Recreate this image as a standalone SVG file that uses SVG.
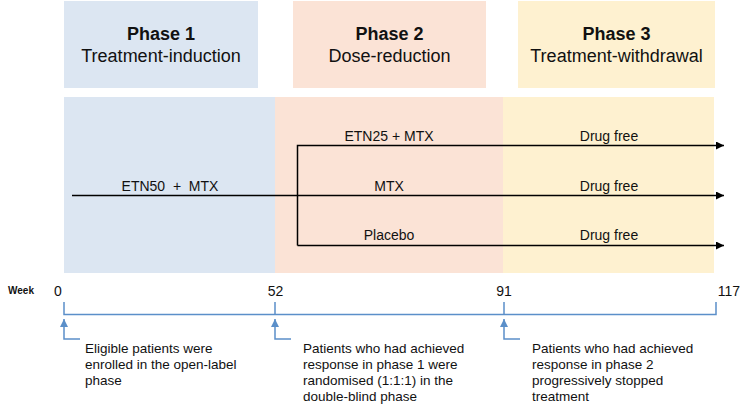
<svg xmlns="http://www.w3.org/2000/svg" width="746" height="406" viewBox="0 0 746 406">
<defs>
<style>
text{font-family:"Liberation Sans",Arial,sans-serif;fill:#111}
.h{font-size:18px;font-weight:bold;text-anchor:middle}
.s{font-size:18px;text-anchor:middle}
.l{font-size:14px;text-anchor:middle;white-space:pre}
.n{font-size:14px;text-anchor:middle}
.a{font-size:13.5px}
.w{font-size:10px;font-weight:bold}
.line{stroke:#000;stroke-width:1.5;fill:none}
.tl{stroke:#5b8fc9;stroke-width:1.5;fill:none}
</style>
<marker id="ah" markerWidth="10" markerHeight="10" refX="8" refY="4" orient="auto" markerUnits="userSpaceOnUse">
<path d="M0,0 L8,4 L0,8 Z" fill="#000"/>
</marker>
<marker id="bh" markerWidth="10" markerHeight="10" refX="8" refY="4" orient="auto" markerUnits="userSpaceOnUse">
<path d="M0,0 L8,4 L0,8 Z" fill="#5b8fc9"/>
</marker>
</defs>
<rect width="746" height="406" fill="#fff"/>
<g id="phase1">
<rect x="64" y="1" width="194" height="87" fill="#dce6f2"/>
<text class="h" x="161" y="40">Phase 1</text>
<text class="s" x="161" y="62">Treatment-induction</text>
</g>
<g id="phase2">
<rect x="293" y="1" width="193" height="87" fill="#fbe3d6"/>
<text class="h" x="389.5" y="40">Phase 2</text>
<text class="s" x="389.5" y="62">Dose-reduction</text>
</g>
<g id="phase3">
<rect x="518" y="1" width="197" height="87" fill="#fef1d0"/>
<text class="h" x="616.5" y="40">Phase 3</text>
<text class="s" x="616.5" y="62">Treatment-withdrawal</text>
</g>
<g id="bands">
<rect x="64" y="97" width="211" height="176" fill="#dce6f2"/>
<rect x="275" y="97" width="228" height="176" fill="#fbe3d6"/>
<rect x="503" y="97" width="211" height="176" fill="#fef1d0"/>
</g>
<g id="connectors">
<path class="line" d="M72,195.5 H724" marker-end="url(#ah)"/>
<path class="line" d="M297.5,245.5 V145.5 H724" marker-end="url(#ah)"/>
<path class="line" d="M297.5,245.5 H724" marker-end="url(#ah)"/>
<path class="tl" d="M64,302 V314.5 H716 V302 M275,302 V314.5 M504,302 V314.5"/>
<path class="tl" d="M80,339 H64 V319" marker-end="url(#bh)"/>
<path class="tl" d="M291,339 H275 V319" marker-end="url(#bh)"/>
<path class="tl" d="M520,339 H504 V319" marker-end="url(#bh)"/>
</g>
<g id="arm-labels">
<text class="l" x="170" y="190.5">ETN50  +  MTX</text>
<text class="l" x="389" y="140.5">ETN25 + MTX</text>
<text class="l" x="389" y="190.5">MTX</text>
<text class="l" x="389" y="240">Placebo</text>
<text class="l" x="609" y="140.5">Drug free</text>
<text class="l" x="609" y="190.5">Drug free</text>
<text class="l" x="609" y="240">Drug free</text>
</g>
<g id="timeline">
<text class="w" x="8" y="294">Week</text>
<text class="n" x="58" y="296">0</text>
<text class="n" x="275.5" y="296">52</text>
<text class="n" x="504" y="296">91</text>
<text class="n" x="729" y="296">117</text>
</g>
<g id="note1">
<text class="a" x="85" y="353">Eligible patients were</text>
<text class="a" x="85" y="369">enrolled in the open-label</text>
<text class="a" x="85" y="385">phase</text>
</g>
<g id="note2">
<text class="a" x="303" y="353">Patients who had achieved</text>
<text class="a" x="303" y="369">response in phase 1 were</text>
<text class="a" x="303" y="385">randomised (1:1:1) in the</text>
<text class="a" x="303" y="401">double-blind phase</text>
</g>
<g id="note3">
<text class="a" x="532" y="353">Patients who had achieved</text>
<text class="a" x="532" y="369">response in phase 2</text>
<text class="a" x="532" y="385">progressively stopped</text>
<text class="a" x="532" y="401">treatment</text>
</g>
</svg>
